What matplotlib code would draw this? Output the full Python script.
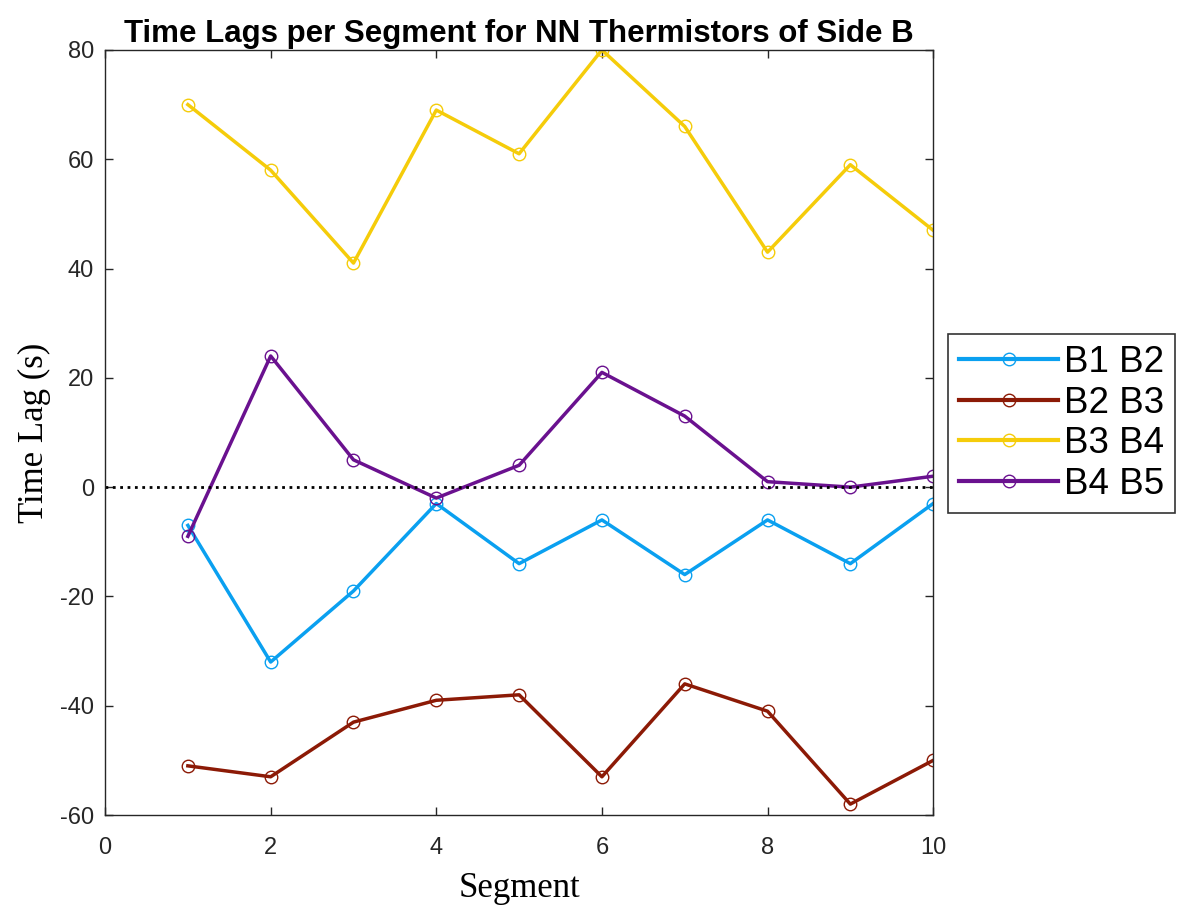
import numpy as np
import matplotlib.pyplot as plt

segments = [1, 2, 3, 4, 5, 6, 7, 8, 9, 10]
b1_b2 = [-7, -32, -19, -3, -14, -6, -16, -6, -14, -3]
b2_b3 = [-51, -53, -43, -39, -38, -53, -36, -41, -58, -50]
b3_b4 = [70, 58, 41, 69, 61, 80, 66, 43, 59, 47]
b4_b5 = [-9, 24, 5, -2, 4, 21, 13, 1, 0, 2]

labels = ["B1 B2", "B2 B3", "B3 B4", "B4 B5"]
colors = ["#0aa0f0", "#8c1a06", "#f5cc0a", "#6a118f"]

plt.rcParams["axes.unicode_minus"] = False
plt.rcParams["font.family"] = "Liberation Sans"


def main():
    fig = plt.figure(figsize=(11.83, 9.13), dpi=100)
    ax = fig.add_axes([0.0888, 0.1073, 0.7, 0.838])

    for y, lab, c in zip([b1_b2, b2_b3, b3_b4, b4_b5], labels, colors):
        ax.plot(segments, y, color=c, lw=2.5, label=lab,
                marker="o", ms=9, mfc="none", mec=c, mew=1.0)

    ax.plot([0, 10], [0, 0], color="black", ls=":", lw=2)

    ax.set_xlim(0, 10)
    ax.set_ylim(-60, 80)
    ax.set_xticks(np.arange(0, 11, 2))
    ax.set_yticks(np.arange(-60, 81, 20))
    ax.tick_params(direction="in", length=6, labelsize=17, colors="#262626",
                   top=True, right=True, width=1)
    ax.tick_params(axis="x", pad=16)
    ax.tick_params(axis="y", pad=8)
    for s in ax.spines.values():
        s.set_color("#262626")
        s.set_linewidth(1)

    ax.set_xlabel("Segment", family="Liberation Serif", fontsize=25, labelpad=9)
    ax.set_ylabel("Time Lag (s)", family="Liberation Serif", fontsize=25, labelpad=6)
    ax.set_title("Time Lags per Segment for NN Thermistors of Side B",
                 fontweight="bold", fontsize=22.5, pad=6)

    leg = ax.legend(loc="center left", bbox_to_anchor=(1.018, 0.512), borderaxespad=0,
                    frameon=True, fancybox=False, edgecolor="black",
                    handlelength=2.7, handletextpad=0.15, borderpad=0.3,
                    labelspacing=0.15, prop={"family": "Liberation Sans", "size": 26.5})
    leg.get_frame().set_linewidth(1.2)
    for h in leg.get_lines():
        h.set_linewidth(3)

    plt.savefig("out.png", dpi=100)


main()
